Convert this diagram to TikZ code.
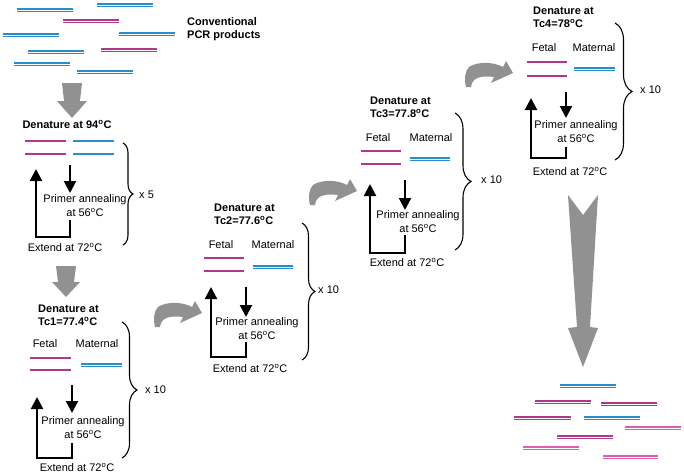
\documentclass[tikz,border=0pt]{standalone}
\usepackage{fontspec}
\setmainfont{Liberation Sans}
\usetikzlibrary{arrows.meta,decorations.pathreplacing}
\definecolor{dnablue}{RGB}{40,142,202}
\definecolor{dnamag}{RGB}{175,55,140}
\definecolor{dnapink}{RGB}{222,92,178}
\definecolor{arrgray}{RGB}{145,145,145}
\tikzset{
  dsblue/.style={draw=dnablue, line width=1.4pt, double=white, double distance=0.8pt},
  dsmag/.style={draw=dnamag, line width=1.4pt, double=white, double distance=0.8pt},
  dspink/.style={draw=dnapink, line width=1.4pt, double=white, double distance=0.8pt},
  ssmag/.style={draw=dnamag, line width=1.8pt},
  ssblue/.style={draw=dnablue, line width=1.8pt},
  lab/.style={font=\fontsize{11}{14}\selectfont, inner sep=0pt, align=center},
  ttl/.style={font=\bfseries\fontsize{11}{13}\selectfont, inner sep=0pt, align=left},
  cyc/.style={line width=2.1pt, -{Triangle[width=12pt,length=12pt]}},
  bracestyle/.style={line width=1.1pt, decorate},
  fatgray/.style={fill=arrgray, draw=none},
  curvarrow/.pic={\fill[arrgray] (0,0) -- (5,0) .. controls (6,-8) and (12,-12) .. (28,-10) -- (25,-4) -- (47,-14) -- (40,-26) -- (37,-20) .. controls (28,-25) and (12,-26) .. (3,-20) .. controls (-1,-16) and (-2,-8) .. (0,0) -- cycle;}
}
\begin{document}
\begin{tikzpicture}[x=1pt,y=-1pt]
\useasboundingbox (0,0) rectangle (684,474);

% ---- conventional PCR products
\draw[dsblue] (17,10) -- (73,10);
\draw[dsblue] (97,5) -- (153,5);
\draw[dsmag] (63,21) -- (119,21);
\draw[dsblue] (3,35) -- (59,35);
\draw[dsblue] (119,34) -- (175,34);
\draw[dsblue] (28,52) -- (84,52);
\draw[dsmag] (101,50) -- (157,50);
\draw[dsblue] (14,64) -- (70,64);
\draw[dsblue] (77,72) -- (133,72);
\node[ttl, anchor=west] (conv) at (187,29) {Conventional\\PCR products};

% fat gray arrow 1
\fill[fatgray] (62,83) -- (82,83) -- (80,101) -- (87,101) -- (72,118) -- (57,101) -- (64,101) -- cycle;

% ---- block 1 : 94 C
\node[ttl] (t1) at (67,124) {Denature at 94\textsuperscript{o}C};
\draw[ssmag] (25,141) -- (66,141);
\draw[ssmag] (25,154) -- (66,154);
\draw[ssblue] (73,141) -- (114,141);
\draw[ssblue] (73,154) -- (114,154);
\coordinate (d1s) at (70,165); \coordinate (d1e) at (70,193);
\draw[cyc] (d1s) -- (d1e);
\node[lab] (p1) at (85,206) {Primer annealing\\at 56\textsuperscript{o}C};
\coordinate (r1a) at (70,220); \coordinate (r1b) at (36,237); \coordinate (r1c) at (36,169);
\draw[cyc] (r1a) |- (r1b) -- (r1c);
\node[lab] (e1) at (65,247) {Extend at 72\textsuperscript{o}C};
\draw[bracestyle, decoration={brace,amplitude=10pt}] (123,143) -- (123,245);
\node[lab, anchor=west] (x1) at (139,195) {x 5};

% fat gray arrow 2
\fill[fatgray] (56,266) -- (76,266) -- (74,282) -- (80,282) -- (66,297) -- (52,282) -- (58,282) -- cycle;

% ---- block 2 : Tc1
\node[ttl, anchor=west] (t2) at (38,315.5) {Denature at\\Tc1=77.4\textsuperscript{o}C};
\node[lab] (f2) at (45,344) {Fetal};
\node[lab] (m2) at (97,344) {Maternal};
\draw[ssmag] (30,358) -- (71,358);
\draw[ssmag] (30,370) -- (71,370);
\draw[dsblue] (81,365) -- (122,365);
\coordinate (d2s) at (72,385); \coordinate (d2e) at (72,413);
\draw[cyc] (d2s) -- (d2e);
\node[lab] (p2) at (83,428) {Primer annealing\\at 56\textsuperscript{o}C};
\coordinate (r2a) at (72,443); \coordinate (r2b) at (37,458); \coordinate (r2c) at (37,397);
\draw[cyc] (r2a) |- (r2b) -- (r2c);
\node[lab] (e2) at (77,467) {Extend at 72\textsuperscript{o}C};
\draw[bracestyle, decoration={brace,amplitude=15pt}] (122,322) -- (122,458);
\node[lab, anchor=west] (x2) at (145,390) {x 10};

% ---- block 3 : Tc2
\pic at (155,327) {curvarrow};
\node[ttl, anchor=west] (t3) at (214,214) {Denature at\\Tc2=77.6\textsuperscript{o}C};
\node[lab] (f3) at (221,245) {Fetal};
\node[lab] (m3) at (273,245) {Maternal};
\draw[ssmag] (204,258) -- (244,258);
\draw[ssmag] (204,271) -- (244,271);
\draw[dsblue] (253,267) -- (293,267);
\coordinate (d3s) at (246,287); \coordinate (d3e) at (246,317);
\draw[cyc] (d3s) -- (d3e);
\node[lab] (p3) at (257,329) {Primer annealing\\at 56\textsuperscript{o}C};
\coordinate (r3a) at (246,342); \coordinate (r3b) at (211,357); \coordinate (r3c) at (211,287);
\draw[cyc] (r3a) |- (r3b) -- (r3c);
\node[lab] (e3) at (250,368) {Extend at 72\textsuperscript{o}C};
\draw[bracestyle, decoration={brace,amplitude=13pt}] (302,223) -- (302,360);
\node[lab, anchor=west] (x3) at (318,290) {x 10};

% ---- block 4 : Tc3
\pic at (310,205) {curvarrow};
\node[ttl, anchor=west] (t4) at (370,107) {Denature at\\Tc3=77.8\textsuperscript{o}C};
\node[lab] (f4) at (378,138) {Fetal};
\node[lab] (m4) at (431,138) {Maternal};
\draw[ssmag] (361,151) -- (401,151);
\draw[ssmag] (361,164) -- (401,164);
\draw[dsblue] (410,159) -- (450,159);
\coordinate (d4s) at (405,180); \coordinate (d4e) at (405,210);
\draw[cyc] (d4s) -- (d4e);
\node[lab] (p4) at (418,222) {Primer annealing\\at 56\textsuperscript{o}C};
\coordinate (r4a) at (405,235); \coordinate (r4b) at (370,253); \coordinate (r4c) at (370,184);
\draw[cyc] (r4a) |- (r4b) -- (r4c);
\node[lab] (e4) at (407,262) {Extend at 72\textsuperscript{o}C};
\draw[bracestyle, decoration={brace,amplitude=16pt}] (455,113) -- (455,250);
\node[lab, anchor=west] (x4) at (481,180) {x 10};

% ---- block 5 : Tc4
\pic at (466,87) {curvarrow};
\node[ttl, anchor=west] (t5) at (533,17.5) {Denature at\\Tc4=78\textsuperscript{o}C};
\node[lab] (f5) at (544,48) {Fetal};
\node[lab] (m5) at (594,48) {Maternal};
\draw[ssmag] (527,62) -- (567,62);
\draw[ssmag] (527,76) -- (567,76);
\draw[dsblue] (574,69) -- (615,69);
\coordinate (d5s) at (566,92); \coordinate (d5e) at (566,118);
\draw[cyc] (d5s) -- (d5e);
\node[lab] (p5) at (576,132) {Primer annealing\\at 56\textsuperscript{o}C};
\coordinate (r5a) at (566,147); \coordinate (r5b) at (531,158); \coordinate (r5c) at (531,98);
\draw[cyc] (r5a) |- (r5b) -- (r5c);
\node[lab] (e5) at (570,171) {Extend at 72\textsuperscript{o}C};
\draw[bracestyle, decoration={brace,amplitude=17pt}] (615,23) -- (615,160);
\node[lab, anchor=west] (x5) at (640,90) {x 10};

% ---- big gray arrow
\fill[fatgray] (568,195) -- (583,215) -- (598,195) -- (590,327) -- (598,328) -- (583,367) -- (568,328) -- (577,327) -- cycle;

% ---- final products
\draw[dsblue] (560,386) -- (616,386);
\draw[dsmag] (535,402) -- (591,402);
\draw[dsmag] (601,404) -- (657,404);
\draw[dsmag] (514,418) -- (571,418);
\draw[dsblue] (584,418) -- (640,418);
\draw[dspink] (625,428) -- (681,428);
\draw[dsmag] (557,437) -- (613,437);
\draw[dspink] (523,448) -- (579,448);
\draw[dspink] (603,457) -- (658,457);
\end{tikzpicture}
\end{document}
